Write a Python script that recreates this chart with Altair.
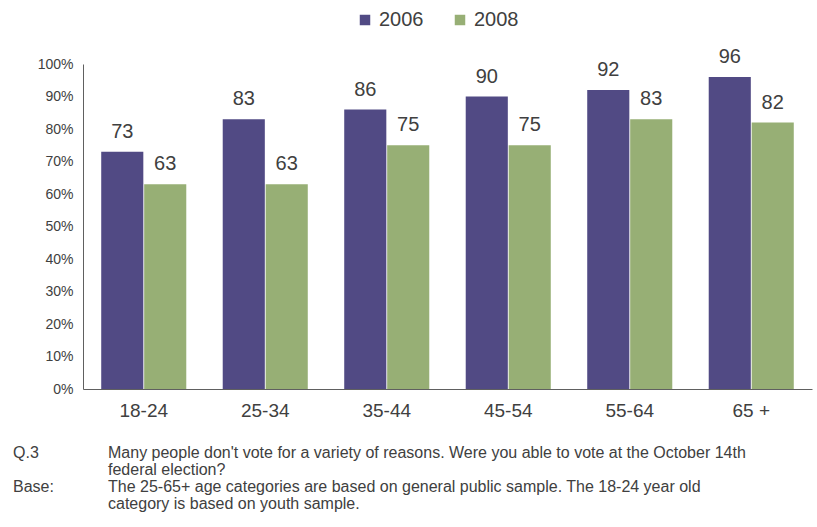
import altair as alt
import pandas as pd

# Share of respondents who voted, by age group and survey year
age_groups = ["18-24", "25-34", "35-44", "45-54", "55-64", "65 +"]
years = ["2006", "2008"]
voted_2006 = [73, 83, 86, 90, 92, 96]
voted_2008 = [63, 63, 75, 75, 83, 82]

rows = []
for age, v06, v08 in zip(age_groups, voted_2006, voted_2008):
    rows.append({"age": age, "year": "2006", "pct": v06})
    rows.append({"age": age, "year": "2008", "pct": v08})
df = pd.DataFrame(rows)

# Footnote lines: a short tag in the left column, the note itself on the right
note_tags = ["Q.3", "", "Base:", ""]
note_lines = [
    "Many people don't vote for a variety of reasons.  Were you able to vote at the October 14th",
    "federal election?",
    "The 25-65+ age categories are based on general public sample. The 18-24 year old",
    "category is based on youth sample.",
]
notes = pd.DataFrame({"tag": note_tags, "text": note_lines, "line": range(len(note_lines))})

FONT = "Liberation Sans"
TEXT = "#404040"

x_enc = alt.X("age:N", sort=age_groups, title=None,
              scale=alt.Scale(paddingInner=0.3, paddingOuter=0.15),
              axis=alt.Axis(labelAngle=0, labelFontSize=19, labelColor=TEXT,
                            labelFont=FONT, labelPadding=12, ticks=False,
                            domainColor="#606060"))
y_enc = alt.Y("pct:Q", title=None,
              scale=alt.Scale(domain=[0, 100]),
              axis=alt.Axis(values=list(range(0, 101, 10)),
                            labelExpr="datum.value + '%'",
                            labelFontSize=14, labelColor=TEXT, labelFont=FONT,
                            labelPadding=10, ticks=False, grid=False,
                            domainColor="#606060"))

base = alt.Chart(df).encode(
    x=x_enc,
    xOffset=alt.XOffset("year:N", sort=years, scale=alt.Scale(paddingInner=0.02)),
    y=y_enc,
)

bars = base.mark_bar().encode(
    color=alt.Color("year:N", sort=years,
                    scale=alt.Scale(domain=years, range=["#514A84", "#97AF75"]),
                    legend=alt.Legend(title=None, orient="none", direction="horizontal",
                                      legendX=272, legendY=-54,
                                      symbolType="square", symbolSize=110,
                                      symbolStrokeWidth=0,
                                      labelFontSize=20, labelFont=FONT,
                                      labelColor=TEXT, columnPadding=26,
                                      labelOffset=4)),
)

labels = base.mark_text(baseline="bottom", dy=-10, fontSize=20, font=FONT,
                        color=TEXT).encode(text="pct:Q")

main = alt.layer(bars, labels)

note_y = alt.Y("line:Q", axis=None, scale=alt.Scale(domain=[0, 3], range=[394, 445]))

note_tag_marks = alt.Chart(notes).mark_text(
    align="left", baseline="alphabetic", fontSize=16, font=FONT, color=TEXT
).encode(x=alt.value(-70), y=note_y, text="tag:N")

note_text_marks = alt.Chart(notes).mark_text(
    align="left", baseline="alphabetic", fontSize=16, font=FONT, color=TEXT
).encode(x=alt.value(25), y=note_y, text="text:N")

footnote = alt.layer(note_tag_marks, note_text_marks)

chart = alt.layer(main, footnote).resolve_scale(
    y="independent"
).properties(
    width=729,
    height=325,
    padding={"left": 83, "top": 64, "right": 5, "bottom": 138},
    autosize=alt.AutoSizeParams(type="none"),
).configure_view(stroke=None)

chart.save("out.html", embed_options={"renderer": "svg", "actions": False})
